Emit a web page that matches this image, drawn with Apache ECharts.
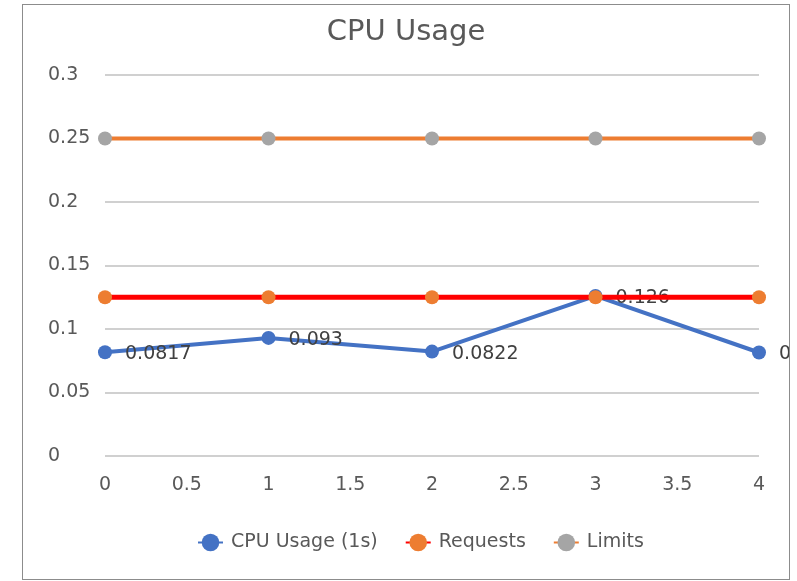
<!DOCTYPE html>
<html>
<head>
<meta charset="utf-8">
<script src="https://cdn.jsdelivr.net/npm/echarts@6/dist/echarts.min.js"></script>
<style>
  html, body { margin: 0; padding: 0; background: #ffffff; }
  #frame {
    position: absolute; left: 22px; top: 4px;
    width: 766px; height: 574px;
    border: 1px solid #8c8c8c; background: #ffffff;
  }
  #chart { width: 766px; height: 574px; }
</style>
</head>
<body>
<div id="frame"><div id="chart"></div></div>
<script>
// Sample positions along the x axis
const xValues = [0, 1, 2, 3, 4];
// Measured CPU usage (cores), averaged over 1 s
const cpuUsage = [0.0817, 0.093, 0.0822, 0.126, 0.0815];
// Configured resource request and limit (cores)
const requests = [0.125, 0.125, 0.125, 0.125, 0.125];
const limits = [0.25, 0.25, 0.25, 0.25, 0.25];

const seriesNames = ['CPU Usage (1s)', 'Requests', 'Limits'];

const pairs = (ys) => xValues.map((x, i) => [x, ys[i]]);

const FONT = '"DejaVu Sans", "Open Sans", sans-serif';
const AXIS_TEXT = '#595959';

const chart = echarts.init(document.getElementById('chart'), null, { renderer: 'canvas' });

chart.setOption({
  backgroundColor: '#ffffff',
  animation: false,
  title: {
    text: 'CPU Usage',
    left: 'center',
    top: 8,
    textStyle: { fontFamily: FONT, fontSize: 29, fontWeight: 'normal', color: AXIS_TEXT }
  },
  legend: {
    data: seriesNames,
    top: 523,
    left: 169,
    itemWidth: 25,
    itemHeight: 22,
    itemGap: 27,
    textStyle: { fontFamily: FONT, fontSize: 19, color: AXIS_TEXT, padding: [0, 0, 0, 3] }
  },
  grid: { left: 82, top: 70, width: 654, height: 381, containLabel: false },
  xAxis: {
    type: 'value',
    min: 0, max: 4, interval: 0.5,
    axisLine: { show: false },
    axisTick: { show: false },
    splitLine: { show: false },
    axisLabel: { margin: 20, fontFamily: FONT, fontSize: 19, color: AXIS_TEXT }
  },
  yAxis: {
    type: 'value',
    min: 0, max: 0.3, interval: 0.05,
    axisLine: { show: false },
    axisTick: { show: false },
    splitLine: { show: true, lineStyle: { color: '#d0d0d0', width: 2 } },
    axisLabel: { align: 'left', margin: 57, fontFamily: FONT, fontSize: 19, color: AXIS_TEXT }
  },
  series: [
    {
      name: seriesNames[0],
      type: 'line',
      data: pairs(cpuUsage),
      symbol: 'circle',
      symbolSize: 14,
      z: 2,
      lineStyle: { color: '#4472c4', width: 4 },
      itemStyle: { color: '#4472c4' },
      label: {
        show: true,
        position: 'right',
        distance: 13,
        offset: [0, 2],
        fontFamily: FONT, fontSize: 19, color: '#404040'
      }
    },
    {
      name: seriesNames[1],
      type: 'line',
      data: pairs(requests),
      symbol: 'circle',
      symbolSize: 14,
      z: 3,
      lineStyle: { color: '#ff0000', width: 5 },
      itemStyle: { color: '#ed7d31' }
    },
    {
      name: seriesNames[2],
      type: 'line',
      data: pairs(limits),
      symbol: 'circle',
      symbolSize: 14,
      z: 4,
      lineStyle: { color: '#ed7d31', width: 4 },
      itemStyle: { color: '#a5a5a5' }
    }
  ]
});
</script>
</body>
</html>
